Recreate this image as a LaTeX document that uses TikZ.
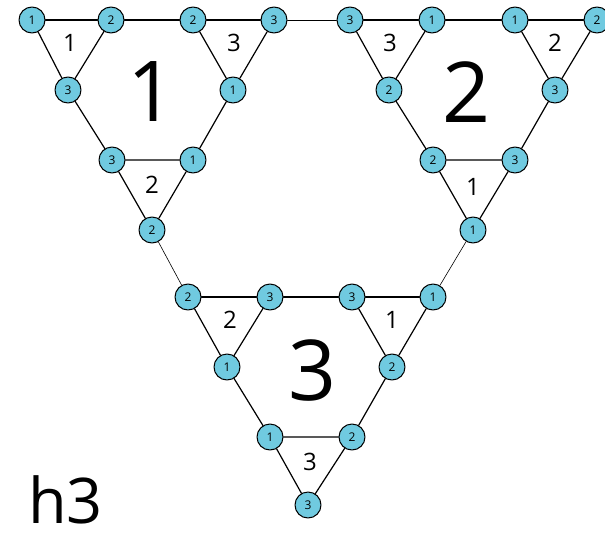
\documentclass[tikz,border=0pt]{standalone}
\usepackage{fontspec}
\setmainfont{Open Sans}
\definecolor{Vfill}{RGB}{112,202,224}

\begin{document}
\begin{tikzpicture}[x=1pt,y=-1pt,line cap=round,line join=round,
  vtx/.style={circle,draw,line width=1pt,fill=Vfill,minimum size=26pt,inner sep=0pt,font=\fontsize{12}{13}\selectfont},
  link/.style={line width=1.2pt},
  bridge/.style={line width=0.6pt},
  tri/.style={font=\fontsize{24}{26}\selectfont},
  big/.style={font=\fontsize{84}{90}\selectfont}]
\path[use as bounding box] (0,0) rectangle (605,533);
% block 1
\node[vtx] (a1) at (32,20) {1};
\node[vtx] (a2) at (111,20) {2};
\node[vtx] (a3) at (193,20) {2};
\node[vtx] (a4) at (274,20) {3};
\node[vtx] (b1) at (68,90) {3};
\node[vtx] (b2) at (233,90) {1};
\node[vtx] (c1) at (112,160) {3};
\node[vtx] (c2) at (193,160) {1};
\node[vtx] (d) at (152,230) {2};
% block 2
\node[vtx] (e1) at (350,20) {3};
\node[vtx] (e2) at (432,20) {1};
\node[vtx] (e3) at (515,20) {1};
\node[vtx] (e4) at (597,20) {2};
\node[vtx] (f1) at (389,90) {2};
\node[vtx] (f2) at (555,90) {3};
\node[vtx] (g1) at (433,160) {2};
\node[vtx] (g2) at (515,160) {3};
\node[vtx] (k) at (473,230) {1};
% block 3
\node[vtx] (m1) at (188,297) {2};
\node[vtx] (m2) at (270,297) {3};
\node[vtx] (m3) at (352,297) {3};
\node[vtx] (m4) at (433,297) {1};
\node[vtx] (n1) at (227,367) {1};
\node[vtx] (n2) at (392,367) {2};
\node[vtx] (p1) at (270,437) {1};
\node[vtx] (p2) at (352,437) {2};
\node[vtx] (q) at (308,505) {3};
% edges
\draw[link] (a1) -- (a2) -- (a3) -- (a4);
\draw[link] (a1) -- (b1) -- (a2);
\draw[link] (a3) -- (b2) -- (a4);
\draw[link] (b1) -- (c1) -- (c2) -- (b2);
\draw[link] (c1) -- (d) -- (c2);
\draw[link] (e1) -- (e2) -- (e3) -- (e4);
\draw[link] (e1) -- (f1) -- (e2);
\draw[link] (e3) -- (f2) -- (e4);
\draw[link] (f1) -- (g1) -- (g2) -- (f2);
\draw[link] (g1) -- (k) -- (g2);
\draw[link] (m1) -- (m2) -- (m3) -- (m4);
\draw[link] (m1) -- (n1) -- (m2);
\draw[link] (m3) -- (n2) -- (m4);
\draw[link] (n1) -- (p1) -- (p2) -- (n2);
\draw[link] (p1) -- (q) -- (p2);
\draw[bridge] (a4) -- (e1);
\draw[bridge] (d) -- (m1);
\draw[bridge] (k) -- (m4);
% labels
\node[tri] (t1) at (70,43) {1};
\node[tri] (t2) at (234,43) {3};
\node[tri] (t3) at (152,185) {2};
\node[tri] (t4) at (390,43) {3};
\node[tri] (t5) at (555,43) {2};
\node[tri] (t6) at (473,187) {1};
\node[tri] (t7) at (230,320) {2};
\node[tri] (t8) at (392,320) {1};
\node[tri] (t9) at (310,462) {3};
\node[big] (h1) at (152,92) {1};
\node[big] (h2) at (467,92) {2};
\node[big] (h3) at (313,370) {3};
\node[anchor=base west,inner sep=0pt,font=\fontsize{63}{66}\selectfont] (name) at (28,523) {h3};
\end{tikzpicture}
\end{document}
